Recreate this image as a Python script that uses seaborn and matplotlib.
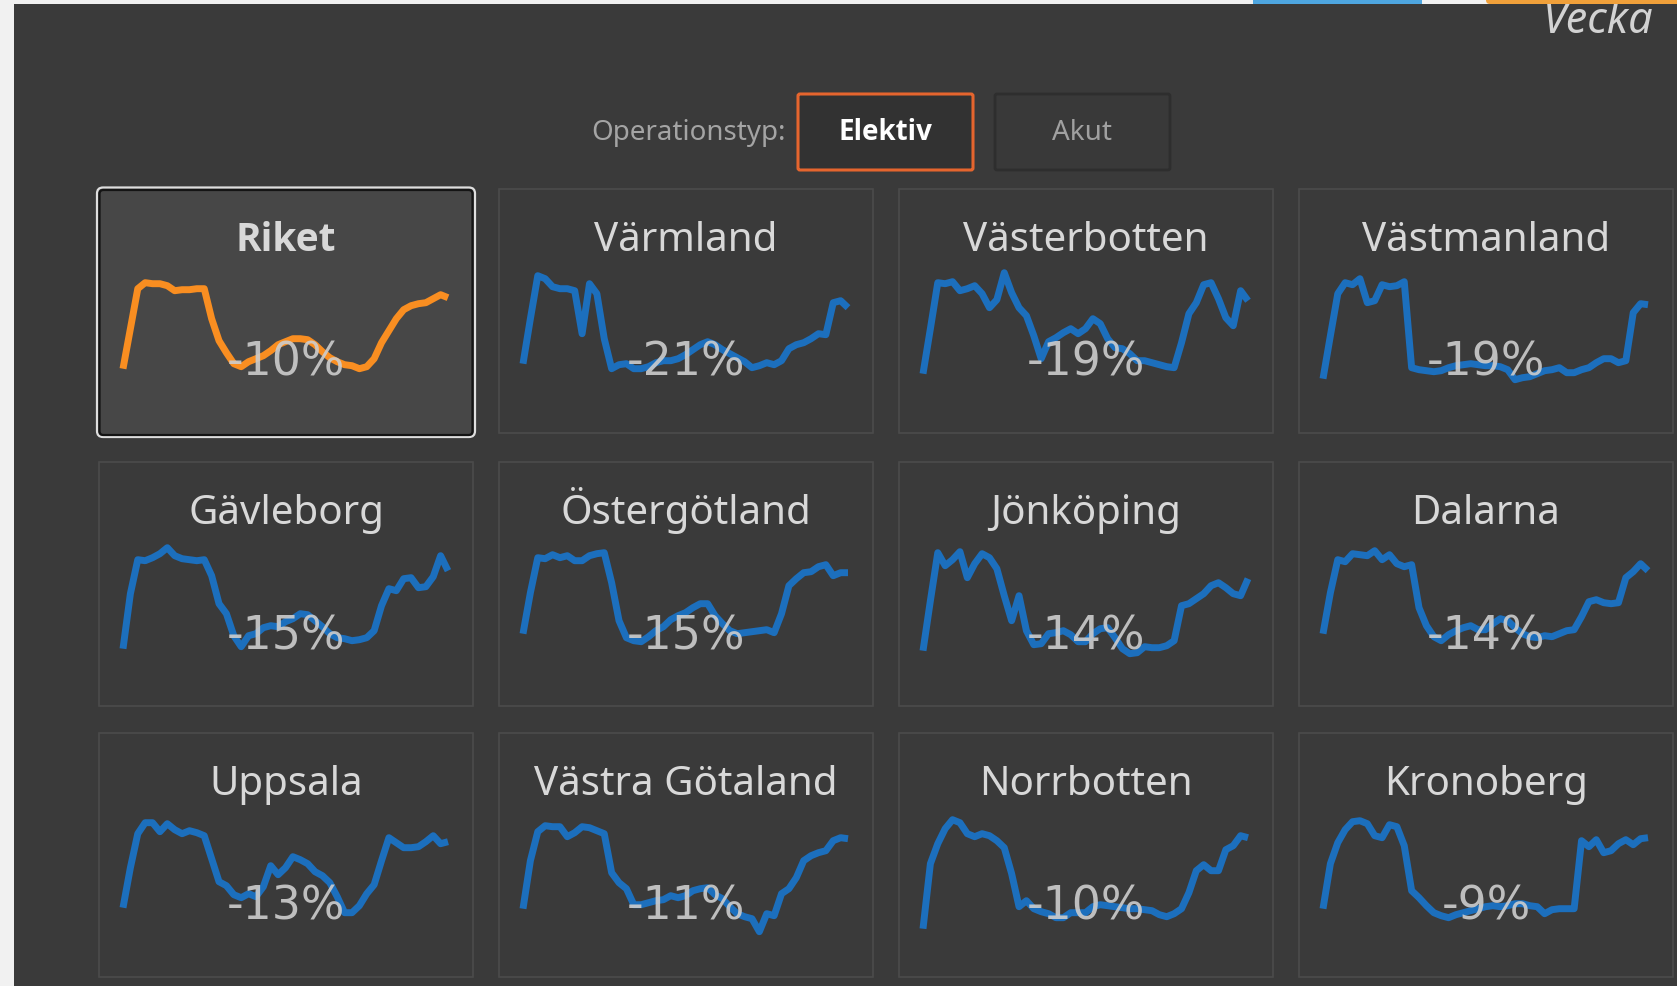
import numpy as np
import pandas as pd
import matplotlib
matplotlib.use("Agg")
import matplotlib.pyplot as plt
from matplotlib.patches import Rectangle, FancyBboxPatch
import seaborn as sns

# ---------------- data ----------------
regions = ["Riket", "Värmland", "Västerbotten", "Västmanland",
           "Gävleborg", "Östergötland", "Jönköping", "Dalarna",
           "Uppsala", "Västra Götaland", "Norrbotten", "Kronoberg"]
changes = ["-10%", "-21%", "-19%", "-19%", "-15%", "-15%",
           "-14%", "-14%", "-13%", "-11%", "-10%", "-9%"]
weeks = list(range(1, 46))

riket = [17, 57, 97, 103, 102, 102, 100, 95, 96, 96, 97, 97, 67, 45, 33, 22, 19, 24, 27, 30, 35, 41, 44, 47, 47, 46, 41, 34, 28, 24, 21, 20, 17, 19, 27, 43, 55, 67, 76, 80, 82, 83, 87, 91, 88]
varmland = [22, 67, 110, 107, 99, 97, 97, 95, 52, 102, 92, 47, 17, 21, 22, 17, 17, 19, 23, 25, 25, 27, 31, 36, 41, 44, 41, 36, 32, 28, 24, 18, 20, 23, 21, 25, 37, 41, 43, 47, 52, 51, 83, 85, 78]
vasterbotten = [12, 57, 103, 102, 104, 95, 97, 100, 92, 78, 86, 113, 93, 78, 70, 50, 27, 44, 48, 53, 57, 52, 57, 67, 62, 47, 38, 37, 32, 25, 25, 23, 21, 19, 18, 43, 72, 83, 101, 103, 87, 68, 60, 95, 85]
vastmanland = [7, 50, 92, 103, 101, 107, 83, 85, 101, 99, 100, 104, 18, 16, 15, 14, 15, 18, 20, 21, 22, 21, 20, 20, 19, 16, 6, 8, 9, 12, 15, 16, 18, 13, 13, 16, 18, 23, 27, 27, 23, 25, 73, 82, 81]
gavleborg = [10, 65, 99, 98, 101, 105, 111, 103, 100, 99, 98, 99, 83, 55, 45, 23, 12, 23, 25, 31, 33, 32, 37, 40, 45, 44, 38, 32, 25, 21, 20, 18, 19, 21, 28, 53, 70, 68, 80, 81, 71, 72, 82, 103, 88]
ostergotland = [25, 66, 101, 100, 104, 101, 103, 98, 98, 103, 105, 106, 76, 38, 21, 18, 17, 22, 28, 32, 39, 43, 46, 51, 55, 55, 43, 35, 28, 25, 26, 27, 28, 29, 26, 45, 73, 80, 86, 87, 92, 94, 83, 86, 86]
jonkoping = [8, 58, 106, 93, 99, 107, 81, 95, 105, 101, 90, 63, 38, 63, 28, 14, 15, 25, 26, 28, 24, 17, 17, 25, 30, 31, 21, 10, 5, 6, 12, 11, 11, 13, 18, 53, 55, 60, 65, 73, 76, 71, 65, 63, 80]
dalarna = [25, 66, 99, 97, 105, 104, 103, 108, 99, 104, 95, 92, 94, 51, 33, 22, 18, 24, 28, 31, 33, 29, 29, 35, 40, 38, 31, 25, 22, 21, 23, 22, 25, 28, 29, 42, 57, 59, 56, 55, 56, 81, 87, 95, 88]
uppsala = [22, 62, 96, 107, 107, 98, 106, 100, 96, 99, 97, 94, 71, 48, 44, 35, 32, 36, 33, 43, 64, 55, 62, 73, 70, 66, 58, 54, 47, 33, 17, 17, 24, 36, 45, 69, 92, 87, 82, 82, 83, 88, 94, 86, 88]
vastra_gotaland = [21, 69, 98, 104, 103, 103, 93, 97, 103, 102, 99, 96, 57, 47, 41, 25, 25, 27, 29, 30, 34, 32, 34, 39, 41, 42, 35, 31, 23, 16, 13, 11, -2, 16, 14, 36, 41, 52, 69, 74, 77, 79, 89, 92, 91]
norrbotten = [1, 66, 86, 101, 110, 107, 96, 93, 96, 94, 89, 82, 56, 23, 29, 21, 18, 16, 12, 12, 17, 17, 17, 23, 25, 24, 23, 22, 21, 21, 20, 19, 15, 13, 16, 21, 37, 59, 65, 59, 59, 80, 84, 94, 92]
kronoberg = [21, 66, 87, 100, 108, 109, 106, 94, 92, 105, 103, 84, 39, 32, 24, 17, 14, 12, 15, 17, 19, 21, 23, 24, 23, 24, 26, 26, 24, 23, 16, 20, 21, 21, 21, 89, 83, 90, 77, 79, 86, 90, 85, 91, 92]

series = [riket, varmland, vasterbotten, vastmanland, gavleborg, ostergotland,
          jonkoping, dalarna, uppsala, vastra_gotaland, norrbotten, kronoberg]

df = pd.DataFrame([(reg, w, v) for reg, vals in zip(regions, series)
                   for w, v in zip(weeks, vals)],
                  columns=["region", "vecka", "varde"])

# ---------------- style ----------------
sns.set_theme(style="dark")
plt.rcParams['font.family'] = ['Noto Sans', 'DejaVu Sans']
BOLD_FAMILY = ['Open Sans', 'DejaVu Sans']

W, H = 1677, 987
BG = '#3a3a3a'
LIGHT = '#f1f1f1'
fig = plt.figure(figsize=(W / 100, H / 100), dpi=100, facecolor=LIGHT)

bg = fig.add_axes([0, 0, 1, 1], zorder=0)
bg.set_xlim(0, W)
bg.set_ylim(H, 0)
bg.axis('off')
bg.add_patch(Rectangle((14, 5), W - 14, H - 5, facecolor=BG, edgecolor='none', zorder=1))

bg.text(1653, 33, "Vecka", ha='right', va='baseline', fontsize=31,
        style='italic', color='#d2d2d2', zorder=3)
# top strip (drawn over the word so its top is trimmed like in the page)
bg.add_patch(Rectangle((14, 0), W - 14, 5, facecolor=LIGHT, edgecolor='none', zorder=4))
bg.add_patch(Rectangle((1253, 0), 169, 5, facecolor='#4ea6e0', edgecolor='none', zorder=5))
bg.add_patch(FancyBboxPatch((1486, -4), 200, 9, boxstyle='round,pad=0,rounding_size=4',
                            facecolor='#f0a03a', edgecolor='none', zorder=5))

# Operation type selector
bg.text(786, 140, "Operationstyp:", ha='right', va='baseline', fontsize=20,
        color='#a4a4a4', zorder=3)
bg.add_patch(FancyBboxPatch((798, 95), 175, 76, boxstyle='round,pad=0,rounding_size=2',
                            facecolor='#323232', edgecolor='#e5652e', linewidth=2.2, zorder=2))
bg.text(885.5, 140, "Elektiv", ha='center', va='baseline', fontsize=20,
        fontweight='bold', family=BOLD_FAMILY, color='#ffffff', zorder=3)
bg.add_patch(FancyBboxPatch((995, 95), 175, 76, boxstyle='round,pad=0,rounding_size=2',
                            facecolor='#393939', edgecolor='#2e2e2e', linewidth=2, zorder=2))
bg.text(1082.5, 140, "Akut", ha='center', va='baseline', fontsize=20,
        color='#a0a0a0', zorder=3)

ov = fig.add_axes([0, 0, 1, 1], zorder=2)
ov.set_xlim(0, W)
ov.set_ylim(H, 0)
ov.axis('off')
ov.patch.set_alpha(0)

col_left = [99, 499, 899, 1299]
row_top = [190, 463, 734]
PW, PH = 374, 244

for i, reg in enumerate(regions):
    r, c = divmod(i, 4)
    left, top = col_left[c], row_top[r]
    if i == 0:
        bg.add_patch(FancyBboxPatch((97, 188.5), 378, 249.5,
                                    boxstyle='round,pad=0,rounding_size=6',
                                    facecolor='#474747', edgecolor='#dedede',
                                    linewidth=1.6, zorder=2))
        bg.add_patch(FancyBboxPatch((99.5, 191), 373, 245,
                                    boxstyle='round,pad=0,rounding_size=4',
                                    facecolor='none', edgecolor='#141414',
                                    linewidth=1.6, zorder=2))
        bg.text(left + PW / 2, top + 61, reg, ha='center', va='baseline', fontsize=28,
                color='#d8d8d8', fontweight='bold', family=BOLD_FAMILY, zorder=3)
    else:
        bg.add_patch(Rectangle((left, top), PW, PH, facecolor=BG,
                               edgecolor='#4b4b4b', linewidth=1.2, zorder=2))
        bg.text(left + PW / 2, top + 61, reg, ha='center', va='baseline', fontsize=29,
                color='#d8d8d8', zorder=3)

    ax = fig.add_axes([(left + 24) / W, 1 - (top + 196.7) / H, 325 / W, 120 / H], zorder=1)
    ax.patch.set_alpha(0)
    sub = df[df["region"] == reg]
    sns.lineplot(data=sub, x="vecka", y="varde", ax=ax, errorbar=None,
                 color='#f98e21' if i == 0 else '#1c6fbd', linewidth=5.0,
                 solid_joinstyle='round', solid_capstyle='butt')
    for ln in ax.lines:
        ln.set_clip_on(False)
    ax.set_xlim(weeks[0], weeks[-1])
    ax.set_ylim(0, 120)
    ax.axis('off')

    ov.text(left + PW / 2, top + 186, changes[i], ha='center', va='baseline',
            fontsize=33, family='DejaVu Sans', color='#cdcdcd', alpha=0.9)

fig.savefig("out.png", dpi=100, facecolor=fig.get_facecolor())
